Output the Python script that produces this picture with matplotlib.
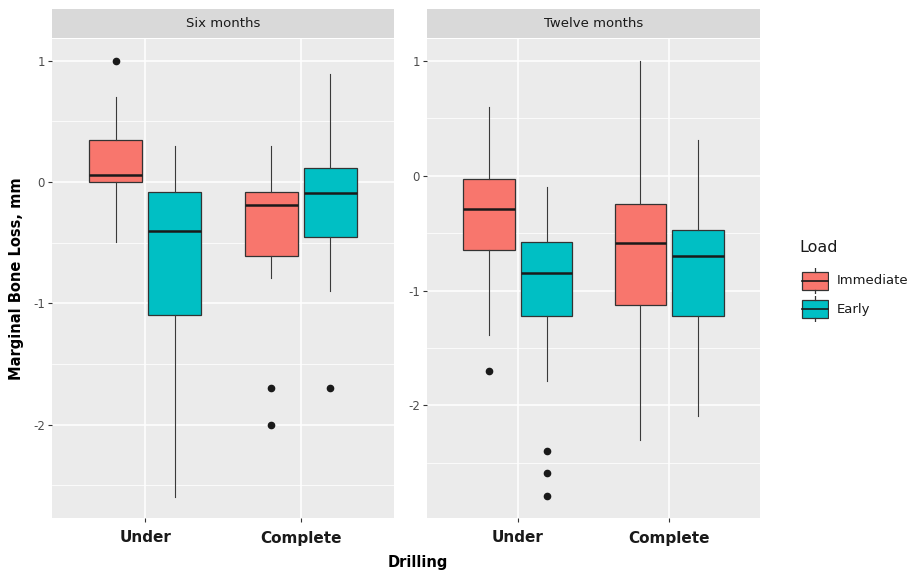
import numpy as np
import matplotlib.pyplot as plt

plt.rcParams["axes.unicode_minus"] = False

# five-number summaries per panel, drilling group (Under, Complete) and load
drilling = ["Under", "Complete"]
loads = ["Immediate", "Early"]
panels = ["Six months", "Twelve months"]

six_immediate = {"whislo": [-0.49, -0.79], "q1": [0.0, -0.61], "med": [0.06, -0.19],
                 "q3": [0.35, -0.08], "whishi": [0.70, 0.30]}
six_early = {"whislo": [-2.60, -0.90], "q1": [-1.10, -0.45], "med": [-0.40, -0.09],
             "q3": [-0.08, 0.12], "whishi": [0.30, 0.89]}
twelve_immediate = {"whislo": [-1.39, -2.30], "q1": [-0.65, -1.13], "med": [-0.29, -0.59],
                    "q3": [-0.03, -0.25], "whishi": [0.60, 1.00]}
twelve_early = {"whislo": [-1.79, -2.09], "q1": [-1.22, -1.22], "med": [-0.85, -0.70],
                "q3": [-0.58, -0.47], "whishi": [-0.10, 0.31]}

six_immediate_out = [[1.0], [-1.70, -2.0]]
six_early_out = [[], [-1.70]]
twelve_immediate_out = [[-1.70], []]
twelve_early_out = [[-2.40, -2.59, -2.79], []]

ylims = [(-2.77, 1.18), (-2.98, 1.19)]

colors = {"Immediate": "#F8766D", "Early": "#00BFC4"}
dark = "#333333"

W, H = 916, 572
fig = plt.figure(figsize=(W / 100, H / 100), dpi=100)

panel_px = [(52, 394), (427, 760)]
top, bottom = 39, 518


def make_stats(summary, outliers):
    stats = []
    for i in range(len(drilling)):
        stats.append({k: summary[k][i] for k in summary} | {"fliers": outliers[i]})
    return stats


data = [
    [(six_immediate, six_immediate_out), (six_early, six_early_out)],
    [(twelve_immediate, twelve_immediate_out), (twelve_early, twelve_early_out)],
]

offsets = [-0.19, 0.19]
x = np.arange(1, len(drilling) + 1)

for p, (x0, x1) in enumerate(panel_px):
    ax = fig.add_axes([x0 / W, (H - bottom) / H, (x1 - x0) / W, (bottom - top) / H])
    ax.set_facecolor("#EBEBEB")
    for s in ax.spines.values():
        s.set_visible(False)

    for j, load in enumerate(loads):
        summary, outliers = data[p][j]
        ax.bxp(make_stats(summary, outliers), positions=x + offsets[j], widths=0.34,
               showcaps=False, patch_artist=True,
               boxprops=dict(facecolor=colors[load], edgecolor=dark, linewidth=0.9),
               whiskerprops=dict(color="#3a3a3a", linewidth=0.8),
               medianprops=dict(color="#1a1a1a", linewidth=1.8),
               flierprops=dict(marker="o", markerfacecolor="#1a1a1a",
                               markeredgecolor="#1a1a1a", markersize=4.5))

    lo, hi = ylims[p]
    ax.set_ylim(lo, hi)
    ax.set_xlim(0.4, 2.6)
    ax.set_yticks([-2, -1, 0, 1])
    ax.set_yticks([-2.5, -1.5, -0.5, 0.5], minor=True)
    ax.set_xticks(x)
    ax.set_xticklabels(drilling, fontsize=11, fontweight="bold", color="#1a1a1a")
    ax.tick_params(axis="y", which="major", labelsize=8.5, labelcolor="#4D4D4D",
                   color=dark, length=3, width=0.8, pad=2)
    ax.tick_params(axis="y", which="minor", length=0)
    ax.tick_params(axis="x", length=3, color=dark, width=0.8, pad=6)
    ax.grid(True, which="major", color="white", linewidth=1.1)
    ax.grid(True, which="minor", axis="y", color="white", linewidth=0.55)
    ax.set_axisbelow(True)

    # facet strip
    sa = fig.add_axes([x0 / W, (H - top + 1) / H, (x1 - x0) / W, 29 / H])
    sa.set_facecolor("#D9D9D9")
    sa.set_xticks([])
    sa.set_yticks([])
    for s in sa.spines.values():
        s.set_visible(False)
    sa.text(0.5, 0.5, panels[p], ha="center", va="center", fontsize=9.5, color="#1A1A1A",
            transform=sa.transAxes)

fig.text(17 / W, 1 - (top + bottom) / (2 * H), "Marginal Bone Loss, mm", rotation=90,
         ha="center", va="center", fontsize=10.5, fontweight="bold")
fig.text(418 / W, 1 - 563 / H, "Drilling", ha="center", va="center",
         fontsize=10.5, fontweight="bold")

# legend
fig.text(799 / W, 1 - 247 / H, "Load", ha="left", va="center", fontsize=11.5, color="#1a1a1a")
leg_y = [281, 309]
for load, yy in zip(loads, leg_y):
    la = fig.add_axes([801 / W, 1 - (yy + 13) / H, 28 / W, 26 / H])
    la.set_xlim(0, 1)
    la.set_ylim(0, 1)
    la.axis("off")
    la.add_patch(plt.Rectangle((0.05, 0.15), 0.9, 0.7, facecolor=colors[load],
                               edgecolor=dark, linewidth=0.9))
    la.plot([0.05, 0.95], [0.5, 0.5], color="#1a1a1a", linewidth=1.2)
    la.plot([0.5, 0.5], [0.0, 0.15], color=dark, linewidth=0.9)
    la.plot([0.5, 0.5], [0.85, 1.0], color=dark, linewidth=0.9)
    fig.text(837 / W, 1 - yy / H, load, ha="left", va="center", fontsize=9.5, color="#1a1a1a")

fig.savefig("out.png", dpi=100)
